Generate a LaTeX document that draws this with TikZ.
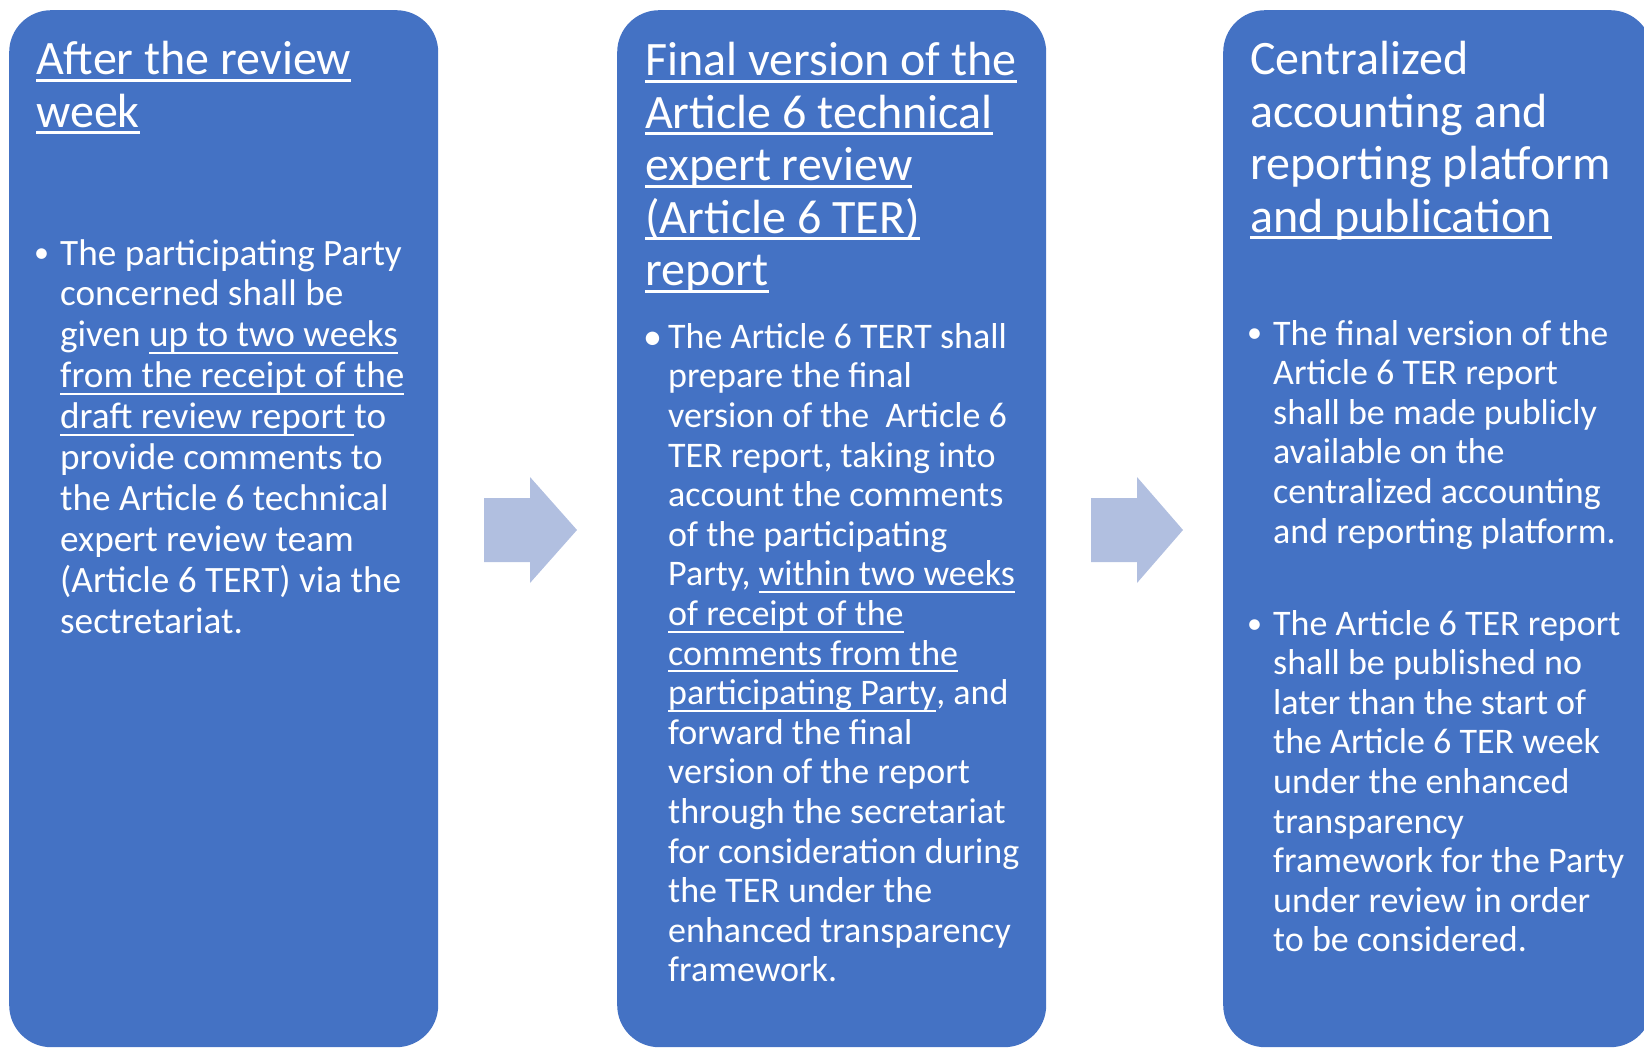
\documentclass[tikz,border=0pt]{standalone}
\usepackage{fontspec}
\setmainfont{Carlito}
\definecolor{boxblue}{HTML}{4472C4}
\definecolor{arrowblue}{HTML}{B1BFE0}
\newcommand\myul[3]{\setbox0\hbox{#3}\rlap{\rule[#1]{\wd0}{#2}}\box0}
\newcommand\ut[1]{\myul{-6.7pt}{2.7pt}{#1}}
\newcommand\ub[1]{\myul{-7pt}{2pt}{#1}}
\begin{document}
\begin{tikzpicture}[x=1pt,y=-1pt,
  panel/.style={fill=boxblue, draw=none, rounded corners=42pt, anchor=north west,
    minimum width=429pt, minimum height=1037pt, inner sep=0pt},
  blockarrow/.style={fill=arrowblue},
  ttl/.style={anchor=base west, inner sep=0pt, align=left, text=white,
    font=\fontsize{48}{52.5}\selectfont},
  bodyA/.style={anchor=base west, inner sep=0pt, align=left, text=white,
    font=\fontsize{37.2}{40.9}\selectfont},
  bodyB/.style={anchor=base west, inner sep=0pt, align=left, text=white,
    font=\fontsize{36}{39.6}\selectfont},
  bul/.style={anchor=base west, inner sep=0pt, text=white,
    font=\fontsize{30}{36}\selectfont},
  bulbig/.style={anchor=base west, inner sep=0pt, text=white,
    font=\fontsize{38}{40}\selectfont}]
\useasboundingbox (0,0) rectangle (1644,1048);
\clip (0,0) rectangle (1644,1048);
% panels
\node[panel] (box1) at (9,10) {};
\node[panel] (box2) at (617,10) {};
\node[panel] (box3) at (1223,10) {};
% block arrows
\fill[blockarrow] (484,498) -- (530,498) -- (530,477) -- (577,530) -- (530,583) -- (530,562) -- (484,562) -- cycle;
\fill[blockarrow] (1091,498) -- (1137,498) -- (1137,477) -- (1183,530) -- (1137,583) -- (1137,562) -- (1091,562) -- cycle;
% titles (anchored at the baseline of the last line)
\node[ttl] (t1) at (36,127.5) {\ut{After the review}\\ \ut{week}};
\node[ttl] (t2) at (645,286) {\ut{Final version of the}\\ \ut{Article 6 technical}\\ \ut{expert review}\\ \ut{(Article 6 TER)}\\ \ut{report}};
\node[ttl] (t3) at (1250,232.5) {Centralized\\ accounting and\\ reporting platform\\ \ut{and publication}};
% bodies (anchored at the baseline of the last line)
\node[bul] (u1) at (34,263) {•};
\node[bodyA] (p1) at (60,633.1) {The participating Party\\ concerned shall be\\ given \ub{up to two weeks}\\ \ub{from the receipt of the}\\ \ub{draft review report\ }to\\ provide comments to\\ the Article 6 technical\\ expert review team\\ (Article 6 TERT) via the\\ sectretariat.};
\node[bulbig] (u2) at (643,350) {•};
\node[bodyB] (p2) at (668,981.9) {The Article 6 TERT shall\\ prepare the final\\ version of the~ Article 6\\ TER report, taking into\\ account the comments\\ of the participating\\ Party, \ub{within two weeks}\\ \ub{of receipt of the}\\ \ub{comments from the}\\ \ub{participating Party}, and\\ forward the final\\ version of the report\\ through the secretariat\\ for consideration during\\ the TER under the\\ enhanced transparency\\ framework.};
\node[bul] (u3) at (1247,343) {•};
\node[bodyB] (p3) at (1273,543) {The final version of the\\ Article 6 TER report\\ shall be made publicly\\ available on the\\ centralized accounting\\ and reporting platform.};
\node[bul] (u4) at (1247,633) {•};
\node[bodyB] (p4) at (1273,951.8) {The Article 6 TER report\\ shall be published no\\ later than the start of\\ the Article 6 TER week\\ under the enhanced\\ transparency\\ framework for the Party\\ under review in order\\ to be considered.};
\end{tikzpicture}
\end{document}
